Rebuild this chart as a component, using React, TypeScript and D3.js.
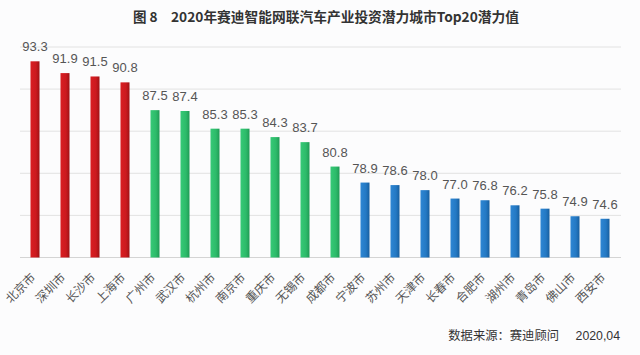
import React from "react";
import * as d3 from "d3";

const cities = ["北京市","深圳市","长沙市","上海市","广州市","武汉市","杭州市","南京市","重庆市","无锡市","成都市","宁波市","苏州市","天津市","长春市","合肥市","湖州市","青岛市","佛山市","西安市"];
const values = [93.3,91.9,91.5,90.8,87.5,87.4,85.3,85.3,84.3,83.7,80.8,78.9,78.6,78.0,77.0,76.8,76.2,75.8,74.9,74.6];
const groups = ["r","r","r","r","g","g","g","g","g","g","g","b","b","b","b","b","b","b","b","b"];
const yTicks = [70,75,80,85,90,95];

const W = 640, H = 355;
const FONT = "'Liberation Sans', Arial, 'Noto Sans CJK SC', sans-serif";
const CJK = "'Noto Sans CJK SC', 'Liberation Sans', sans-serif";

export default function App() {
  const x = d3.scaleBand<string>().domain(cities).range([20, 620]).paddingInner(0.7).paddingOuter(0.35);
  const y = d3.scaleLinear().domain([70, 95]).range([257.5, 47]);
  const fillFor = (g: string) => (g === "r" ? "url(#gr)" : g === "g" ? "url(#gg)" : "url(#gb)");
  return (
    <svg width={W} height={H} style={{ position: "absolute", left: 0, top: 0, background: "#fcfcfd" }}>
      <defs>
        <linearGradient id="gr" x1="0" x2="1" y1="0" y2="0">
          <stop offset="0" stopColor="#d81e22" />
          <stop offset="0.6" stopColor="#cc1a1f" />
          <stop offset="1" stopColor="#9e1215" />
        </linearGradient>
        <linearGradient id="gg" x1="0" x2="1" y1="0" y2="0">
          <stop offset="0" stopColor="#36c977" />
          <stop offset="0.6" stopColor="#2dbb6a" />
          <stop offset="1" stopColor="#1f9a55" />
        </linearGradient>
        <linearGradient id="gb" x1="0" x2="1" y1="0" y2="0">
          <stop offset="0" stopColor="#2e86d3" />
          <stop offset="0.6" stopColor="#2479c4" />
          <stop offset="1" stopColor="#175e9e" />
        </linearGradient>
      </defs>
      <rect x={0} y={0} width={W} height={H} fill="#fcfcfd" />
      <text x={133} y={22} fontFamily={CJK} fontWeight="bold" fontSize={13.5} fill="#333">图 8</text>
      <text x={171} y={22} fontFamily={CJK} fontWeight="bold" fontSize={13.5} fill="#333" textLength={348} lengthAdjust="spacingAndGlyphs">
        2020年赛迪智能网联汽车产业投资潜力城市Top20潜力值
      </text>
      {yTicks.map((t) => (
        <line key={t} x1={20} x2={621} y1={y(t)} y2={y(t)} stroke={t === 70 ? "#d4d4d4" : "#e2e2e2"} strokeWidth={1} />
      ))}
      {cities.map((c, i) => {
        const bx = x(c)!;
        const bw = x.bandwidth();
        const cx = bx + bw / 2;
        return (
          <g key={c}>
            <rect x={bx} y={y(values[i])} width={bw} height={y(70) - y(values[i])} fill={fillFor(groups[i])} />
            <text x={cx} y={y(values[i]) - 10} textAnchor="middle" fontFamily={FONT} fontSize={13} fill="#555">
              {values[i].toFixed(1)}
            </text>
            <text
              transform={`translate(${cx - 1},${276}) rotate(-45)`}
              textAnchor="end"
              dominantBaseline="middle"
              fontFamily={CJK}
              fontSize={12}
              fill="#555"
            >
              {c}
            </text>
          </g>
        );
      })}
      <text x={559} y={340} textAnchor="end" fontFamily={CJK} fontSize={12.3} fill="#333">
        数据来源：赛迪顾问
      </text>
      <text x={620} y={340} textAnchor="end" fontFamily={FONT} fontSize={12.3} fill="#333">
        2020,04
      </text>
    </svg>
  );
}
